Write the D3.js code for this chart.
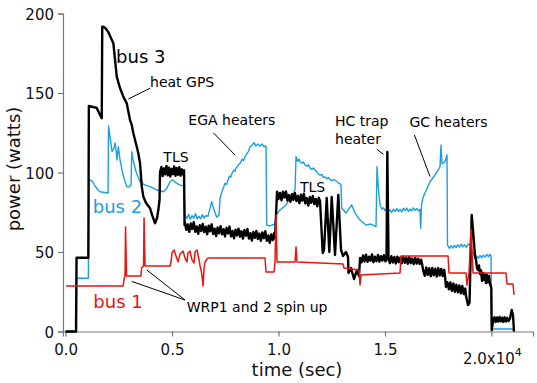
<!DOCTYPE html>
<html><head><meta charset="utf-8">
<script src="https://cdn.jsdelivr.net/npm/d3@7"></script>
<style>
html,body{margin:0;padding:0;background:#fff;}
text{font-family:"DejaVu Sans",sans-serif;}
</style></head>
<body><svg id="c" width="537" height="383"></svg>
<script>
// time in seconds, power in watts
const bus1 = [[23,28.6],[2700,28.6],[2747,33.0],[2794,34.9],[2817,65.7],[2864,34.9],[3545,34.9],[3568,39.9],[3662,41.2],[3686,71.4],[3733,41.2],[4906,41.2],[4953,43.8],[5000,49.4],[5094,51.3],[5188,47.5],[5282,43.8],[5376,48.7],[5517,50.6],[5611,46.2],[5705,43.8],[5751,49.4],[5845,50.6],[5939,45.0],[6033,43.1],[6080,50.0],[6174,51.3],[6268,45.0],[6315,41.2],[6362,38.7],[6409,34.9],[6456,28.6],[6503,39.9],[6550,43.7],[6644,45.6],[6690,46.2],[9367,46.2],[9413,37.4],[9789,37.4],[9836,43.7],[9883,73.3],[9930,43.7],[10775,43.7],[10822,53.2],[10869,43.7],[13028,42.5],[13075,39.9],[13780,38.7],[13827,29.2],[13874,35.5],[15705,36.8],[15752,47.5],[17959,47.5],[18006,36.8],[18804,36.8],[18851,29.2],[18945,36.8],[19039,64.4],[19133,36.8],[20682,36.8],[20729,29.9],[21011,29.9],[21057,23.0]];

const bus2 = [[0,0],[493,0],[516,33.5],[1070,33.5],[1094,95.3],[1244,94.7],[1385,91.5],[1526,89.0],[1620,87.9],[1995,87.1],[2019,129.3],[2089,122.3],[2183,113.1],[2277,115.4],[2324,118.6],[2371,114.2],[2418,107.9],[2479,116.2],[2559,107.9],[2700,98.4],[2873,91.1],[2981,90.9],[3075,92.1],[3108,113.1],[3169,107.9],[3310,100.5],[3498,94.2],[3733,92.1],[3967,91.1],[4282,89.0],[4592,87.9],[4765,90.3],[4906,94.2],[5047,95.3],[5188,93.4],[5376,92.1],[5564,91.5],
  [5611,73.3],[5700,71.0],[5780,73.8],[5860,70.6],[5940,72.9],[6020,71.2],[6100,74.0],[6180,70.8],[6260,72.5],[6340,70.9],[6420,73.5],[6500,71.3],[6580,72.8],[6690,72.6],[6864,81.6],[6972,76.4],[7099,71.8],[7207,73.3],
  [7254,83.8],[7330,87.5],[7400,90.0],[7489,93.2],[7560,92.5],[7629,95.3],[7700,97.8],[7760,97.0],[7817,99.5],[7900,101.5],[7960,100.8],[8005,102.8],[8100,104.5],[8193,105.8],[8300,108.4],[8360,107.6],[8427,109.9],[8520,112.0],[8600,113.5],[8662,116.2],[8750,117.0],[8850,118.8],[8940,116.8],[9038,117.9],[9130,116.5],[9226,117.9],[9320,116.2],[9413,116.7],
  [9446,67.0],[9601,66.4],[9836,67.6],[9883,73.3],[10071,76.4],[10352,79.6],[10695,87.1],[10775,89.0],
  [10822,110.0],[10900,107.0],[10960,108.4],[11010,106.8],[11100,105.9],[11170,106.6],[11245,104.7],[11330,104.0],[11400,104.9],[11480,102.7],[11560,102.0],[11640,102.8],[11714,101.6],[11800,100.2],[11870,99.0],[11949,98.4],[12030,98.8],[12100,97.0],[12184,97.2],[12270,96.0],[12340,96.8],[12419,95.7],[12500,94.8],[12580,95.6],[12700,94.7],[12800,93.5],[12880,93.0],[12935,92.1],
  [12968,77.5],[13169,74.5],[13437,79.6],[13592,74.5],[13827,70.1],[14109,67.0],[14343,67.6],[14578,65.9],[14625,103.7],[14695,89.0],
  [14766,79.6],[14850,77.0],[14930,77.8],[15000,76.0],[15080,77.4],[15160,75.3],[15235,76.6],[15310,74.8],[15390,76.9],[15470,75.6],[15550,77.3],[15630,75.4],[15705,76.8],[15790,75.2],[15860,77.5],[15940,76.0],[16020,77.6],[16100,75.5],[16175,77.0],[16250,75.8],[16330,77.8],[16409,76.2],[16490,77.4],[16570,75.9],[16644,76.8],
  [16677,64.9],[16714,79.6],[16799,84.8],[17113,94.2],[17348,98.4],[17583,103.5],[17630,117.3],[17677,105.4],[17818,106.8],[17912,111.0],
  [17935,54.4],[18020,52.3],[18100,54.0],[18180,52.5],[18260,54.2],[18340,52.8],[18420,54.6],[18500,53.0],[18580,54.9],[18660,53.2],[18740,54.5],[18820,53.0],[18900,55.0],[18992,54.4],[19086,51.3],
  [19226,46.0],[19300,47.5],[19380,46.0],[19461,47.8],[19540,46.4],[19620,48.0],[19696,46.8],[19780,48.5],[19860,47.0],[19931,48.6],[19978,47.5],[20010,1.6],[21010,1.6],[21057,0]];

const bus3 = [[0,0],[493,0],[516,46.4],[1070,46.4],[1094,141.8],[1291,141.2],[1465,140.6],[1620,136.2],[1700,134.1],[1723,191.7],[1808,191.5],[1901,190.3],[1995,188.6],[2089,185.9],[2244,181.3],[2404,160.3],[2559,153.0],[2714,147.7],[2873,143.5],[2934,139.3],[3028,133.0],[3108,129.9],[3183,124.7],[3343,116.2],[3404,112.9],[3498,105.8],[3578,91.1],[3653,84.8],[3780,80.8],[3967,77.5],[4061,73.3],[4202,68.1],[4296,71.4],[4357,76.4],[4413,82.7],
  [4437,100.3],[4500,103.5],[4560,97.8],[4620,102.6],[4680,98.9],[4740,104.1],[4800,98.2],[4860,103.0],[4920,97.5],[4980,102.2],[5040,99.0],[5100,103.8],[5160,97.9],[5220,102.9],[5280,98.6],[5340,103.4],[5400,98.0],[5460,102.0],[5520,98.8],[5564,101.5],
  [5587,67.0],[5600,69.0],[5670,63.9],[5740,67.3],[5810,62.7],[5880,68.0],[5950,64.4],[6020,68.8],[6090,62.7],[6160,66.1],[6230,61.5],[6300,66.8],[6370,63.2],[6440,67.6],[6510,62.5],[6580,65.9],[6650,61.2],[6720,66.6],[6790,63.0],[6860,67.4],[6930,61.3],[7000,64.7],[7070,60.0],[7140,65.4],[7210,61.8],[7280,66.2],[7350,61.1],[7420,64.4],[7490,59.8],[7560,65.2],[7630,61.6],[7700,66.0],[7770,59.8],[7840,63.2],[7910,58.6],[7980,64.0],[8050,60.4],[8120,64.7],[8190,59.6],[8260,63.0],[8330,58.4],[8400,63.8],[8470,60.2],[8540,64.5],[8610,58.4],[8680,61.8],[8750,57.2],[8820,62.6],[8890,58.9],[8960,63.3],[9030,58.2],[9100,61.6],[9170,57.0],[9240,62.3],[9310,58.7],[9380,63.1],[9450,57.0],[9520,60.4],[9590,55.8],[9660,61.1],[9730,57.5],[9800,61.9],[9836,58.5],
  [9930,88.0],[10000,83.3],[10070,87.2],[10140,82.5],[10210,87.9],[10280,84.2],[10350,88.1],[10420,82.4],[10490,85.8],[10560,81.6],[10630,86.4],[10700,82.8],[10770,87.1],[10840,82.0],[10910,85.3],[10980,80.7],[11050,86.0],[11120,82.3],[11190,86.7],[11260,80.5],[11330,83.9],[11400,79.2],[11470,84.6],[11540,80.9],[11610,85.2],[11680,80.1],[11750,83.4],[11820,78.8],[11890,84.1],[11949,82.1],
  [12076,49.4],[12137,51.3],[12263,84.0],[12385,50.0],[12498,84.6],[12653,48.1],[12808,85.9],[12935,51.3],[13029,47.5],[13169,50.0],[13263,46.9],[13287,36.8],[13404,39.9],[13545,33.0],[13686,38.7],[13780,34.9],
  [13830,46.2],[13900,43.5],[13970,47.8],[14040,44.0],[14110,48.3],[14180,43.8],[14250,47.1],[14320,44.5],[14390,48.5],[14460,43.6],[14530,47.0],[14600,44.2],[14670,48.1],[14740,43.9],[14810,47.4],[14880,44.6],[14950,48.0],[15020,44.1],[15071,45.0],[15109,112.9],[15165,46.2],
  [15230,43.0],[15300,47.3],[15370,43.4],[15440,46.9],[15510,42.8],[15580,47.1],[15650,43.6],[15720,46.5],[15790,42.9],[15860,47.0],[15930,43.2],[16000,46.4],[16070,42.6],[16140,46.8],[16210,43.0],[16280,45.9],[16350,42.4],[16420,46.3],[16490,42.7],[16560,45.8],[16630,42.5],[16700,45.2],[16724,43.7],
  [16799,38.1],[16870,35.0],[16940,40.2],[17010,35.6],[17080,39.8],[17150,34.8],[17220,40.0],[17290,35.3],[17360,39.5],[17430,34.6],[17500,39.9],[17570,35.2],[17640,39.4],[17710,34.9],[17780,38.8],[17817,34.9],
  [17864,28.0],[17930,31.0],[18000,26.5],[18070,30.8],[18140,25.6],[18210,30.2],[18280,25.0],[18350,29.4],[18420,24.6],[18490,29.0],[18560,24.0],[18630,28.6],[18700,23.5],[18770,27.0],[18804,22.3],[18898,16.7],[18968,17.9],[19071,73.3],[19133,63.8],[19226,48.1],
  [19273,45.0],[19320,40.0],[19367,38.7],[19414,41.5],[19461,36.2],[19508,38.5],[19555,31.8],[19602,36.8],[19649,32.5],[19696,36.0],[19743,30.5],[19790,35.5],[19837,31.0],[19884,34.9],[19931,29.9],[19992,27.4],[20010,0.9],
  [20085,7.2],[20140,9.0],[20200,6.0],[20260,8.8],[20320,6.2],[20380,9.1],[20440,6.4],[20500,8.7],[20560,6.0],[20620,8.9],[20680,6.3],[20740,8.6],[20800,6.5],[20870,8.2],[20950,13.5],[21011,10.4],[21057,0]];

const xTicks = [0, 5000, 10000, 15000, 20000];
const xTickLabels = ["0.0", "0.5", "1.0", "1.5", "2.0x10"];
const yTicks = [0, 50, 100, 150, 200];

// annotations: [text, t, watts, size, color]
const labels = [
  ["bus 3", 2371, 168.8, 18, "#000"],
  ["heat GPS", 3967, 154.0, 14, "#000"],
  ["EGA heaters", 5767, 129.9, 14, "#000"],
  ["TLS", 4592, 106.8, 14, "#000"],
  ["TLS", 11010, 87.9, 14, "#000"],
  ["HC trap", 12655, 129.4, 14, "#000"],
  ["heater", 12655, 117.9, 14, "#000"],
  ["GC heaters", 16145, 128.8, 14, "#000"],
  ["bus 2", 1277, 74.7, 18, "#1a9fe0"],
  ["bus 1", 1305, 15.0, 18, "#e8150f"],
  ["WRP1 and 2 spin up", 5691, 12.5, 14, "#000"]
];
// leader lines: [t1, w1, t2, w2]
const leaders = [
  [3967, 153.0, 2949, 146.2],
  [6940, 125.0, 7959, 111.0],
  [14614, 114.6, 14924, 111.5],
  [16380, 123.6, 17117, 97.4],
  [3108, 31.5, 5611, 19.8],
  [3813, 38.7, 5611, 19.8]
];

const svg = d3.select("#c");
const x = d3.scaleLinear().domain([-120, 21950]).range([63, 533]);
const y = d3.scaleLinear().domain([0, 200]).range([331.5, 13.5]);

const axisColor = "#777";
const gx = svg.append("g").attr("transform", "translate(0,331.5)")
  .call(d3.axisBottom(x).tickValues(xTicks).tickSize(5).tickFormat(""));
const gy = svg.append("g").attr("transform", "translate(63,0)")
  .call(d3.axisLeft(y).tickValues(yTicks).tickSize(5).tickFormat(""));
[gx, gy].forEach(g => {
  g.select(".domain").attr("stroke", axisColor).attr("stroke-width", 1.2);
  g.selectAll(".tick line").attr("stroke", axisColor).attr("stroke-width", 1.2);
});
gy.selectAll(".tick").append("text")
  .attr("x", -9).attr("y", 5.5).attr("text-anchor", "end")
  .attr("fill", "#111").attr("font-size", 15).text(d => d);
gx.selectAll(".tick").each(function(d, i) {
  const t = d3.select(this).append("text").attr("fill", "#111").attr("font-size", 15);
  if (i === xTickLabels.length - 1) {
    t.attr("x", -29).attr("y", 32).attr("text-anchor", "start").text(xTickLabels[i]);
    t.append("tspan").attr("dy", -8).attr("font-size", 11).text("4");
  } else {
    t.attr("x", 0).attr("y", 23.5).attr("text-anchor", "middle").text(xTickLabels[i]);
  }
});

svg.append("text").attr("x", 297).attr("y", 375.5).attr("text-anchor", "middle")
  .attr("font-size", 18).attr("fill", "#111").text("time (sec)");
svg.append("text").attr("transform", "translate(20,169) rotate(-90)").attr("text-anchor", "middle")
  .attr("font-size", 18).attr("fill", "#111").text("power (watts)");

const line = d3.line().x(d => x(d[0])).y(d => y(d[1]));
svg.append("path").datum(bus2).attr("d", line).attr("fill", "none")
  .attr("stroke", "#1a9fe0").attr("stroke-width", 1.4).attr("stroke-linejoin", "round");
svg.append("path").datum(bus3).attr("d", line).attr("fill", "none")
  .attr("stroke", "#000").attr("stroke-width", 2.4).attr("stroke-linejoin", "round");
svg.append("path").datum(bus1).attr("d", line).attr("fill", "none")
  .attr("stroke", "#e8150f").attr("stroke-width", 1.5).attr("stroke-linejoin", "round");

svg.selectAll("line.leader").data(leaders).enter().append("line").attr("class", "leader")
  .attr("x1", d => x(d[0])).attr("y1", d => y(d[1])).attr("x2", d => x(d[2])).attr("y2", d => y(d[3]))
  .attr("stroke", "#000").attr("stroke-width", 1);
svg.selectAll("text.ann").data(labels).enter().append("text").attr("class", "ann")
  .attr("x", d => x(d[1])).attr("y", d => y(d[2])).attr("font-size", d => d[3])
  .attr("fill", d => d[4]).text(d => d[0]);
</script></body></html>
